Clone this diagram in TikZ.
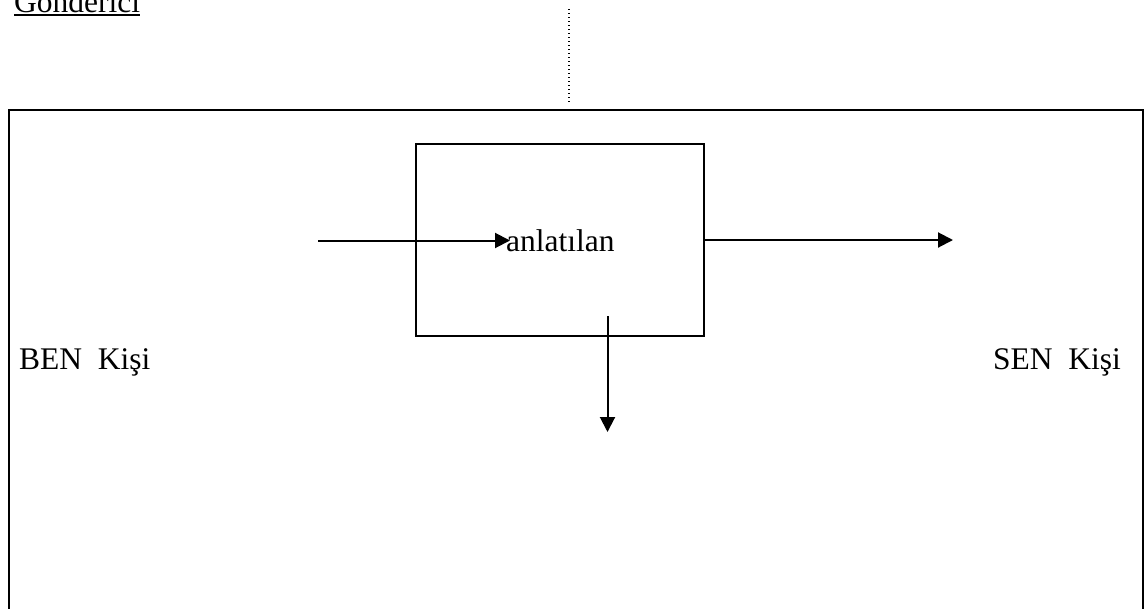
\documentclass[tikz,border=0pt]{standalone}
\usepackage{fontspec}
\setmainfont{Liberation Serif}
\usetikzlibrary{arrows.meta}
\tikzset{
  lbl/.style={font=\fontsize{31.5}{36}\selectfont, inner sep=0pt, anchor=base west},
  flow/.style={line width=2pt, -{Triangle[length=15pt,width=15pt]}},
  frame/.style={line width=2.5pt},
  core/.style={line width=2pt}
}
\begin{document}
\begin{tikzpicture}[x=1pt, y=-1pt]
\useasboundingbox (0,0) rectangle (1145,608);
\clip (0,0) rectangle (1145,608);
% outer frame, open at the bottom edge
\draw[frame] (9,640) -- (9,110) -- (1143,110) -- (1143,640);
% sender label
\node[lbl] (g) at (14,12.5) {Gönderici};
\draw[line width=1.6pt] ([yshift=-2.6pt]g.base west) -- ([yshift=-2.6pt]g.base east);
% dotted separator
\coordinate (dtop) at (569,9);
\coordinate (dbot) at (569,104);
\draw[line width=1.3pt, dash pattern=on 1.3pt off 2.7pt] (dtop) -- (dbot);
% central box
\node[core, draw, minimum width=288pt, minimum height=191.5pt, inner sep=0pt] (box) at (560,240) {};
\node[lbl] (msg) at (506,251) {anlatılan};
% persons
\node[lbl] (ben) at (19,369) {BEN\ \ Kişi};
\node[lbl] (sen) at (993,369) {SEN\ \ Kişi};
% arrows
\coordinate (inS) at (318,240.5);
\coordinate (inE) at (510,240.5);
\draw[flow] (inS) -- (inE);
\coordinate (outE) at (953,240);
\draw[flow] (box.east |- outE) -- (outE);
\coordinate (dnS) at (607.5,316);
\coordinate (dnE) at (607.5,432);
\draw[flow] (dnS) -- (dnE);
\end{tikzpicture}
\end{document}
